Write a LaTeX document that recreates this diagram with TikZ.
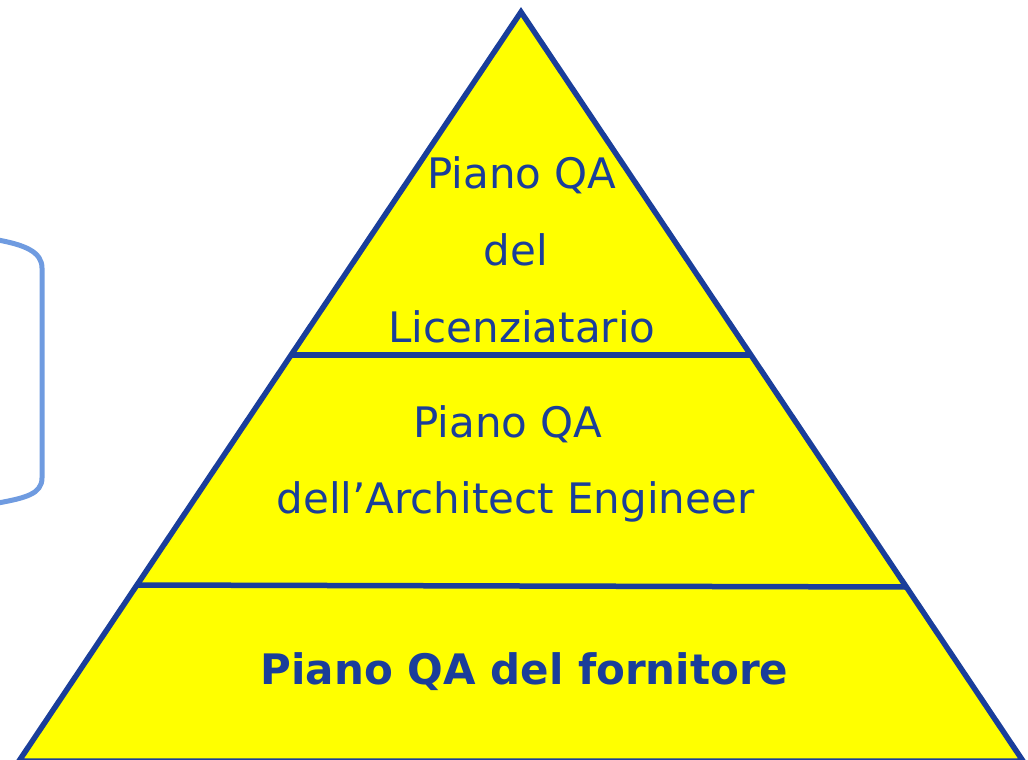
\documentclass[tikz,border=0pt]{standalone}
\usepackage{fontspec}
\setmainfont{DejaVu Sans}
\definecolor{pyrblue}{HTML}{1A3E9A}
\definecolor{pyryellow}{HTML}{FFFF00}
\definecolor{brace}{HTML}{6F9BE0}
\begin{document}
\begin{tikzpicture}[x=1pt,y=-1pt,
  edge/.style={draw=pyrblue,line width=5.5pt,line join=miter},
  lbl/.style={anchor=base,inner sep=0pt,text=pyrblue,font=\fontsize{42}{48}\selectfont},
  blbl/.style={lbl,font=\fontsize{42}{48}\selectfont\bfseries}]
\useasboundingbox (0,0) rectangle (1028,760);
\clip (0,0) rectangle (1028,760);
\coordinate (apex) at (521,12);
\coordinate (bl) at (19,761);
\coordinate (br) at (1023,761);
\coordinate (m1l) at (291,355);
\coordinate (m1r) at (751,355);
\coordinate (m2l) at (137,585);
\coordinate (m2r) at (907,587);
\path[fill=pyryellow] (apex) -- (bl) -- (br) -- cycle;
\draw[edge] (m1l) -- (m1r);
\draw[edge] (m2l) -- (m2r);
\draw[edge] (bl) -- (apex) -- (br) -- cycle;
\draw[draw=brace,line width=5pt] (-2,240) .. controls (25,245) and (42,252) .. (42,268) -- (42,478) .. controls (42,494) and (25,498) .. (-2,503);
\node[lbl] (t1) at (522,188) {Piano QA};
\node[lbl] (t2) at (516,265) {del};
\node[lbl] (t3) at (522,342) {Licenziatario};
\node[lbl] (m1) at (508,437) {Piano QA};
\node[lbl] (m2) at (515.5,513) {dell’Architect Engineer};
\node[blbl] (b1) at (524.5,684) {Piano QA del fornitore};
\end{tikzpicture}
\end{document}
